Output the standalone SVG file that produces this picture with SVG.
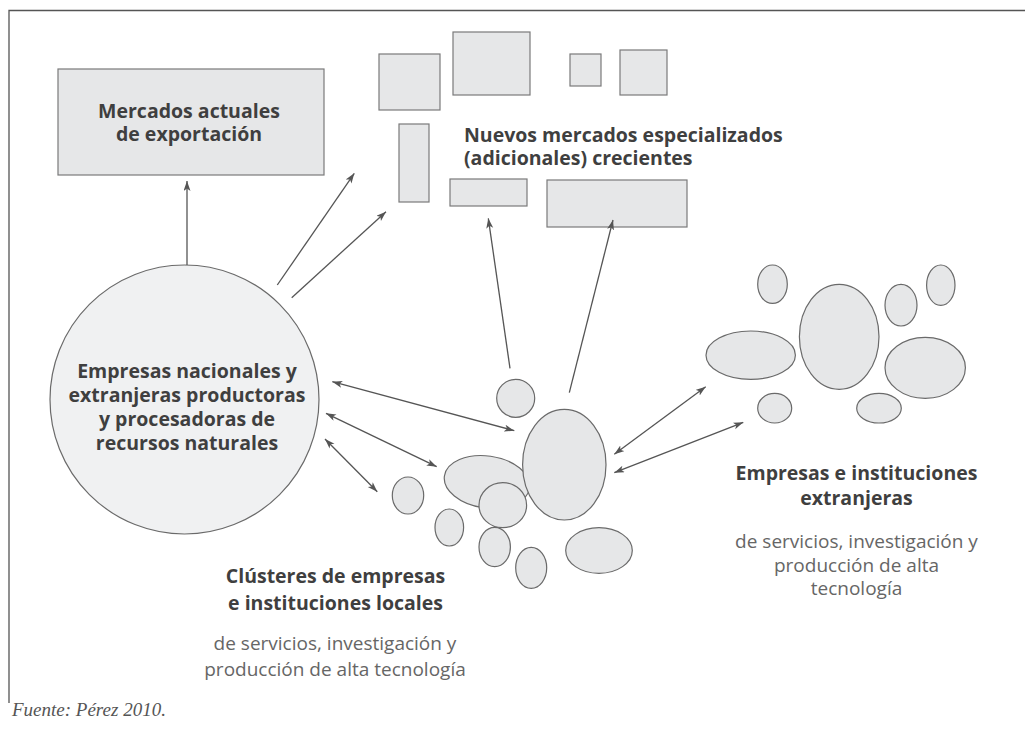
<svg xmlns="http://www.w3.org/2000/svg" width="1025" height="730" viewBox="0 0 1025 730">
<defs>
<style>
.box{fill:#e6e7e8;stroke:#7a7a7a;stroke-width:1.2}
.bub{fill:#e6e7e8;stroke:#6a6a6a;stroke-width:1.2}
.big{fill:#f0f1f2;stroke:#6a6a6a;stroke-width:1.2}
.ln{stroke:#555;stroke-width:1.3;fill:none}
.t{font-family:"Open Sans","Noto Sans","Liberation Sans",sans-serif;font-weight:700;font-size:19.5px;fill:#3f3f3f}
.s{font-family:"Open Sans","Noto Sans","Liberation Sans",sans-serif;font-weight:400;font-size:19px;fill:#666}
.src{font-family:"Liberation Serif",serif;font-style:italic;font-size:19px;fill:#555}
</style>
<marker id="ah" markerUnits="userSpaceOnUse" markerWidth="11" markerHeight="8" refX="10" refY="3.5" orient="auto-start-reverse" viewBox="0 0 11 8">
<path d="M0,0 L10,3.5 L0,7 L2.5,3.5 z" fill="#555"/>
</marker>
</defs>
<rect width="1025" height="730" fill="#fff"/>
<path d="M9,703 V10.5 H1030" stroke="#555" stroke-width="1.3" fill="none"/>

<g id="mercados-actuales">
<rect class="box" x="58" y="69" width="266" height="106"/>
<text class="t" x="189" y="118" text-anchor="middle">Mercados actuales</text>
<text class="t" x="189" y="141" text-anchor="middle">de exportación</text>
</g>

<g id="nuevos-mercados">
<rect class="box" x="379" y="54" width="61" height="56"/>
<rect class="box" x="453" y="32" width="77" height="63"/>
<rect class="box" x="570" y="54" width="31" height="32"/>
<rect class="box" x="620" y="50" width="47" height="45"/>
<rect class="box" x="399" y="124" width="30" height="78"/>
<rect class="box" x="450" y="179" width="77" height="27"/>
<rect class="box" x="547" y="180" width="140" height="47"/>
<text class="t" x="464" y="142">Nuevos mercados especializados</text>
<text class="t" x="464" y="165">(adicionales) crecientes</text>
</g>

<g id="empresas-nacionales">
<circle class="big" cx="184.5" cy="399.5" r="134.5"/>
<text class="t" x="187" y="378" text-anchor="middle">Empresas nacionales y</text>
<text class="t" x="187" y="402" text-anchor="middle">extranjeras productoras</text>
<text class="t" x="187" y="426" text-anchor="middle">y procesadoras de</text>
<text class="t" x="187" y="450" text-anchor="middle">recursos naturales</text>
</g>

<g id="clusteres-locales">
<ellipse class="bub" cx="515.7" cy="398.3" rx="19" ry="19"/>
<ellipse class="bub" cx="487" cy="482" rx="43" ry="26" transform="rotate(8 487 482)"/>
<ellipse class="bub" cx="502.8" cy="505.2" rx="23.8" ry="22.5"/>
<ellipse class="bub" cx="564.3" cy="464.7" rx="41.7" ry="55.3"/>
<ellipse class="bub" cx="408" cy="495.5" rx="15.7" ry="18.5"/>
<ellipse class="bub" cx="449.3" cy="527.5" rx="14.3" ry="18.5"/>
<ellipse class="bub" cx="494.7" cy="547" rx="15.7" ry="19.7"/>
<ellipse class="bub" cx="531.2" cy="567.8" rx="15.5" ry="20.5"/>
<ellipse class="bub" cx="599" cy="550.5" rx="33.3" ry="22.8"/>
<text class="t" x="335.5" y="583" text-anchor="middle">Clústeres de empresas</text>
<text class="t" x="335.5" y="610" text-anchor="middle">e instituciones locales</text>
<text class="s" x="335" y="650" text-anchor="middle">de servicios, investigación y</text>
<text class="s" x="335" y="676" text-anchor="middle">producción de alta tecnología</text>
</g>

<g id="empresas-extranjeras">
<ellipse class="bub" cx="772.5" cy="284.2" rx="14.8" ry="19.2"/>
<ellipse class="bub" cx="839.2" cy="336.8" rx="39.8" ry="52.5"/>
<ellipse class="bub" cx="901" cy="305.2" rx="16" ry="20.8"/>
<ellipse class="bub" cx="940.8" cy="285.2" rx="14.2" ry="20.2"/>
<ellipse class="bub" cx="750.7" cy="355.2" rx="44.7" ry="24.2"/>
<ellipse class="bub" cx="925.2" cy="367.8" rx="40.2" ry="30.5"/>
<ellipse class="bub" cx="774.7" cy="408.2" rx="17" ry="14.8"/>
<ellipse class="bub" cx="879" cy="408.2" rx="22.3" ry="14.8"/>
<text class="t" x="856.5" y="480" text-anchor="middle">Empresas e instituciones</text>
<text class="t" x="856.5" y="505" text-anchor="middle">extranjeras</text>
<text class="s" x="856.5" y="548" text-anchor="middle">de servicios, investigación y</text>
<text class="s" x="856.5" y="572" text-anchor="middle">producción de alta</text>
<text class="s" x="856.5" y="595" text-anchor="middle">tecnología</text>
</g>

<g id="connectors">
<line class="ln" x1="187" y1="265" x2="187" y2="181" marker-end="url(#ah)"/>
<line class="ln" x1="277.3" y1="285" x2="354.3" y2="173.3" marker-end="url(#ah)"/>
<line class="ln" x1="291.7" y1="297.7" x2="386" y2="211.7" marker-end="url(#ah)"/>
<line class="ln" x1="510" y1="368.3" x2="488.3" y2="218.3" marker-end="url(#ah)"/>
<line class="ln" x1="569.3" y1="392.7" x2="613" y2="220" marker-end="url(#ah)"/>
<line class="ln" x1="332.3" y1="381.7" x2="514.3" y2="430.7" marker-start="url(#ah)" marker-end="url(#ah)"/>
<line class="ln" x1="326" y1="413.3" x2="436.7" y2="466.7" marker-start="url(#ah)" marker-end="url(#ah)"/>
<line class="ln" x1="325" y1="439" x2="377.3" y2="491.7" marker-start="url(#ah)" marker-end="url(#ah)"/>
<line class="ln" x1="614.3" y1="454.3" x2="705.7" y2="386.7" marker-start="url(#ah)" marker-end="url(#ah)"/>
<line class="ln" x1="614.3" y1="472.7" x2="743.3" y2="422.3" marker-start="url(#ah)" marker-end="url(#ah)"/>
</g>

<text class="src" x="12" y="716">Fuente: Pérez 2010.</text>
</svg>
